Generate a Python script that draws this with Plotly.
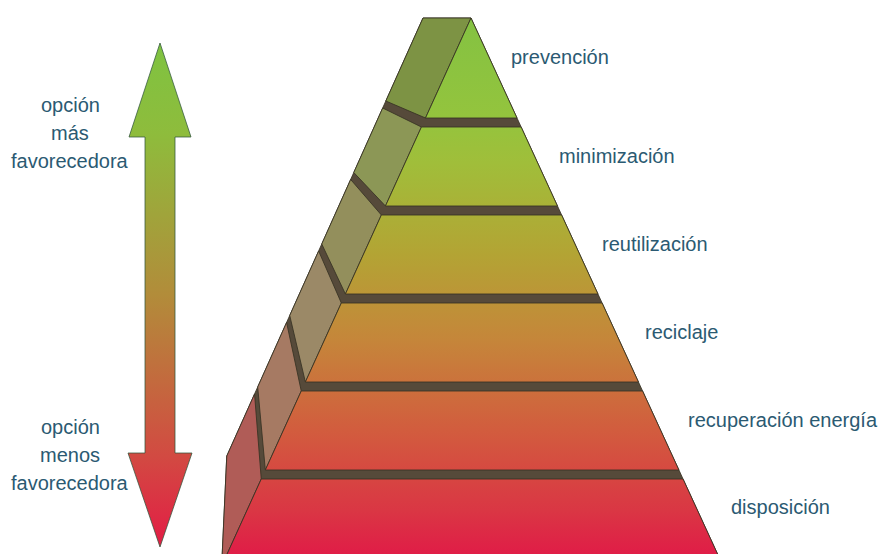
import plotly.graph_objects as go

# ---------------- data ----------------
levels = ["prevención", "minimización", "reutilización", "reciclaje",
          "recuperación energía", "disposición"]
rank = [1, 2, 3, 4, 5, 6]
side_colors = ["#7d9344", "#8c9756", "#938f5c", "#9b8967", "#a67a63", "#b05c57"]
top_note = ["opción", "más", "favorecedora"]
bottom_note = ["opción", "menos", "favorecedora"]

front_scale = [[0.00, "#84c242"], [0.19, "#94c43d"], [0.27, "#a0be3a"],
               [0.44, "#b3a434"], [0.60, "#c5863a"], [0.77, "#d25c3e"],
               [0.92, "#da3644"], [1.00, "#e01d47"]]
arrow_scale = [[0.00, "#7fc341"], [0.18, "#8ebc3c"], [0.50, "#b28c3a"],
               [0.68, "#c4683e"], [0.82, "#d24a42"], [1.00, "#e31c45"]]

# ---------------- geometry (layout constants) ----------------
W, H = 880, 554
APEX_X, APEX_Y = 471.0, 18.0
L_SLOPE, R_SLOPE = 0.455, 0.46
FT2, PITCH, GAP = 127.0, 88.0, 9.0
BX0, B_SLOPE, BT2, BPITCH, BGAP = 423.0, 0.448, 108.0, 71.5, 7.0
BOTTOM = 566.0
N = len(levels)


def xl(y):
    return APEX_X - L_SLOPE * (y - APEX_Y)


def xr(y):
    return APEX_X + R_SLOPE * (y - APEX_Y)


def xb(y):
    return BX0 - B_SLOPE * (y - APEX_Y)


def ftop(r):
    return APEX_Y if r == 1 else FT2 + PITCH * (r - 2)


def fbot(r):
    return ftop(r + 1) - GAP if r < N else BOTTOM


def btop(r):
    return APEX_Y if r == 1 else BT2 + BPITCH * (r - 2)


def bbot(r):
    return btop(r + 1) - BGAP if r < N else btop(N) + 62


BAND = "#564a3a"
EDGE = "rgba(55,50,35,0.85)"

fig = go.Figure()

# dark underlay (gaps between tiers)
ux = [xb(APEX_Y), APEX_X, xr(BOTTOM), xl(BOTTOM), xb(bbot(N)), xb(APEX_Y)]
uy = [APEX_Y, APEX_Y, BOTTOM, BOTTOM, bbot(N), APEX_Y]
fig.add_trace(go.Scatter(x=ux, y=uy, mode="lines", fill="toself",
                         fillcolor=BAND, line=dict(color=EDGE, width=1),
                         hoverinfo="skip", showlegend=False))

for r, name, sc in zip(rank, levels, side_colors):
    yt, yb = ftop(r), fbot(r)
    byt, byb = btop(r), bbot(r)
    # side face
    sx = [xb(byt), xl(yt), xl(yb), xb(byb), xb(byt)]
    sy = [byt, yt, yb, byb, byt]
    fig.add_trace(go.Scatter(x=sx, y=sy, mode="lines", fill="toself",
                             fillcolor=sc, line=dict(color=EDGE, width=1),
                             hoverinfo="skip", showlegend=False))
    # front face
    fx = [xl(yt), xr(yt), xr(yb), xl(yb), xl(yt)]
    fy = [yt, yt, yb, yb, yt]
    fig.add_trace(go.Scatter(x=fx, y=fy, mode="lines", fill="toself",
                             fillgradient=dict(type="vertical", colorscale=front_scale,
                                               start=APEX_Y, stop=H),
                             line=dict(color=EDGE, width=1),
                             name=name, hoverinfo="name", showlegend=False))
    # label
    ly = (yt + min(yb, H)) / 2 - 11 if r < N else 507
    fig.add_annotation(x=xr(ly) + 18 + 2.5 * r, y=ly, text=name, showarrow=False,
                       xanchor="left", yanchor="middle",
                       font=dict(family="Liberation Sans, Arial", size=20, color="#2b5a72"))

# double-headed arrow
AX, TIP_T, BASE_T, BASE_B, TIP_B = 160.0, 43.0, 137.0, 453.0, 547.0
HW, SW = 31.0, 15.0
axs = [AX, AX + HW, AX + SW, AX + SW, AX + HW + 1, AX, AX - HW - 1, AX - SW, AX - SW, AX - HW, AX]
ays = [TIP_T, BASE_T, BASE_T, BASE_B, BASE_B, TIP_B, BASE_B, BASE_B, BASE_T, BASE_T, TIP_T]
fig.add_trace(go.Scatter(x=axs, y=ays, mode="lines", fill="toself",
                         fillgradient=dict(type="vertical", colorscale=arrow_scale,
                                           start=TIP_T, stop=TIP_B),
                         line=dict(color="rgba(50,85,60,0.75)", width=1),
                         hoverinfo="skip", showlegend=False))

for notes, y0 in ((top_note, 105), (bottom_note, 427)):
    for i, t in enumerate(notes):
        fig.add_annotation(x=70, y=y0 + 28 * i, text=t, showarrow=False,
                           xanchor="center", yanchor="middle",
                           font=dict(family="Liberation Sans, Arial", size=20, color="#2b5a72"))

fig.update_layout(width=W, height=H, margin=dict(l=0, r=0, t=0, b=0),
                  paper_bgcolor="white", plot_bgcolor="white",
                  xaxis=dict(range=[0, W], visible=False, fixedrange=True),
                  yaxis=dict(range=[H, 0], visible=False, fixedrange=True))

fig.write_html("out.html", config={"displayModeBar": False})
